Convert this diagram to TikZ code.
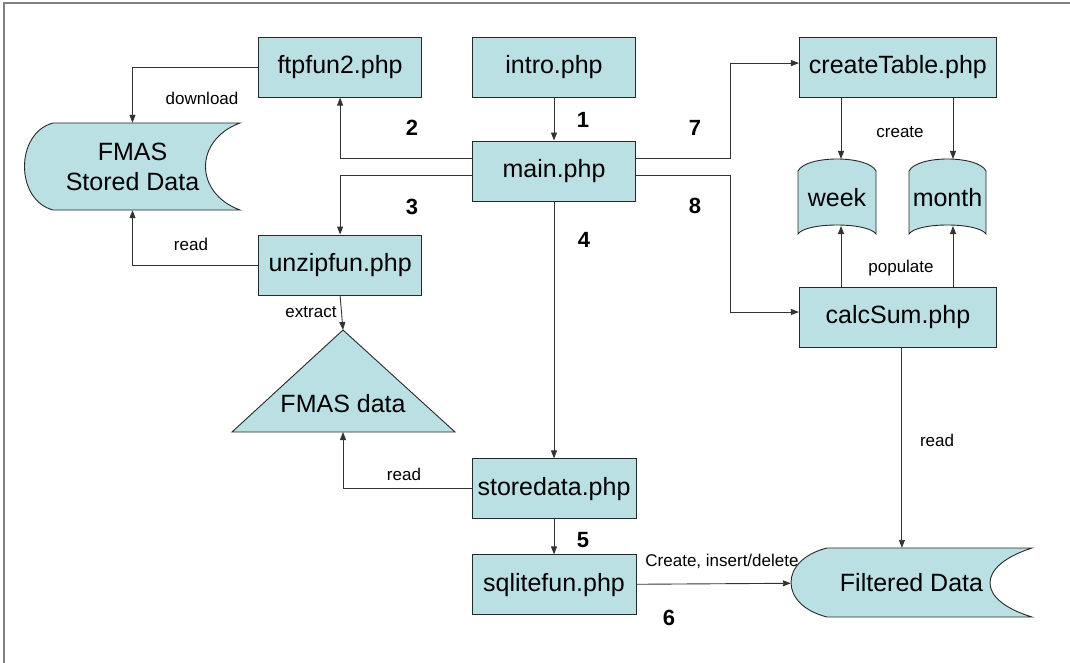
\documentclass[tikz,border=0pt]{standalone}
\usepackage{fontspec}
\setmainfont{Liberation Sans}
\usetikzlibrary{positioning}
\usetikzlibrary{arrows.meta}

\definecolor{boxfill}{RGB}{186,224,228}
\definecolor{boxline}{RGB}{40,40,40}
\newcommand{\phpfont}{\fontsize{25}{30}\selectfont}
\newcommand{\notefont}{\fontsize{17}{20}\selectfont}
\newcommand{\stepfont}{\fontsize{22}{26}\selectfont\bfseries}

\begin{document}
\begin{tikzpicture} [
  x=1pt, y=-1pt,
  phpbox/.style={draw=boxline, fill=boxfill, line width=0.9pt, minimum width=163pt,
    minimum height=60pt, inner sep=0pt, font=\phpfont},
  widebox/.style={phpbox, minimum width=197pt},
  datashape/.style={draw=boxline, fill=boxfill, line width=0.9pt},
  flow/.style={draw=black!80, line width=0.9pt, -{Triangle[length=8pt,width=6pt]}},
  steplabel/.style={font=\stepfont, inner sep=0pt},
  flowlabel/.style={font=\notefont, inner sep=0pt},
  node distance=43pt
  ]
  \useasboundingbox (0,0) rectangle (1070,663);
  \draw[black!50, line width=1.5pt] (4,663) -- (4,3) -- (1070,3);

  % php scripts
  \node[phpbox] (main) at (554,171) {main.php};
  \node[phpbox, above=of main] (intro) {intro.php};
  \node[phpbox, left=50pt of intro] (ftp) {ftpfun2.php};
  \node[phpbox, below=137pt of ftp] (unzip) {unzipfun.php};
  \node[phpbox, below=257pt of main, minimum width=164pt] (store) {storedata.php};
  \node[phpbox, below=35pt of store, minimum width=164pt] (sqlite) {sqlitefun.php};
  \node[widebox, right=163pt of intro] (ctab) {createTable.php};
  \node[widebox, below=189pt of ctab] (calc) {calcSum.php};

  % stored data
  \draw[datashape] (53,123) -- (240,123) .. controls (194,140) and (194,193) .. (240,210)
    -- (53,210) .. controls (15,200) and (15,133) .. (53,123) -- cycle;
  \node[align=center, font=\phpfont, minimum width=215pt, minimum height=87pt,
    inner sep=0pt] (stored) at (132.5,166.5) {FMAS\\Stored Data};

  \draw[datashape] (827,548) -- (1032,548) .. controls (976,566) and (976,600) .. (1032,617)
    -- (827,617) .. controls (779,605) and (779,560) .. (827,548) -- cycle;
  \node[font=\phpfont, minimum width=241pt, minimum height=69pt,
    inner sep=0pt] (filtered) at (911.5,582.5) {Filtered Data};

  % extracted files
  \draw[datashape] (343,330) -- (455,432) -- (232,432) -- cycle;
  \node[font=\phpfont] (fmasdata) at (343,404) {FMAS data};
  \coordinate (triapex) at (343,330);
  \coordinate (tribase) at (343,432);

  % tables
  \draw[datashape] (798,171) .. controls (806,155) and (868,155) .. (876,171)
    -- (876,234) .. controls (868,222) and (806,222) .. (798,234) -- cycle;
  \node[font=\phpfont] (week) at (837,198) {week};
  \coordinate (weektop) at (841,159);
  \coordinate (weekbot) at (841,226);
  \draw[datashape] (909,171) .. controls (917,155) and (978,155) .. (986,171)
    -- (986,234) .. controls (978,222) and (917,222) .. (909,234) -- cycle;
  \node[font=\phpfont] (month) at (947.5,198) {month};
  \coordinate (monthtop) at (953,159);
  \coordinate (monthbot) at (953,226);

  % calls
  \draw[flow] (intro) -- (main);
  \draw[flow] ([yshift=13pt]main.west) -| (ftp.south);
  \draw[flow] (ftp.west) -| (stored.north);
  \draw[flow] ([yshift=-4pt]main.west) -| (unzip.north);
  \draw[flow] (unzip.west) -| (stored.south);
  \draw[flow] (unzip.south) -- (triapex);
  \draw[flow] (main) -- (store);
  \draw[flow] (store.west) -| (tribase);
  \draw[flow] (store) -- (sqlite);
  \draw[flow] (sqlite) -- (filtered);
  \draw[flow] ([yshift=13pt]main.east) -- ++(94,0) |- ([yshift=4pt]ctab.west);
  \draw[flow] ([yshift=-4pt]main.east) -- ++(94,0) |- ([yshift=5pt]calc.west);
  \draw[flow] (ctab.south -| weektop) -- (weektop);
  \draw[flow] (ctab.south -| monthtop) -- (monthtop);
  \draw[flow] (calc.north -| weekbot) -- (weekbot);
  \draw[flow] (calc.north -| monthbot) -- (monthbot);
  \draw[flow] ([xshift=4pt]calc.south) -- ([xshift=4pt]calc.south |- filtered.north);

  % step numbers
  \node[steplabel] (n1) at (583,120) {1};
  \node[steplabel] (n2) at (412,128) {2};
  \node[steplabel] (n3) at (412,207) {3};
  \node[steplabel] (n4) at (584,240) {4};
  \node[steplabel] (n5) at (583,540) {5};
  \node[steplabel] (n6) at (669,618) {6};
  \node[steplabel] (n7) at (695,128) {7};
  \node[steplabel] (n8) at (695,206) {8};

  % edge notes
  \node[flowlabel] (dl) at (202,98) {download};
  \node[flowlabel] (rd1) at (191,244) {read};
  \node[flowlabel] (ex) at (311,312) {extract};
  \node[flowlabel] (rd2) at (404,474) {read};
  \node[flowlabel] (cr) at (900,132) {create};
  \node[flowlabel] (pop) at (901,268) {populate};
  \node[flowlabel] (rd3) at (937,440) {read};
  \node[flowlabel] (cid) at (722,561) {Create, insert/delete};
\end{tikzpicture}
\end{document}
